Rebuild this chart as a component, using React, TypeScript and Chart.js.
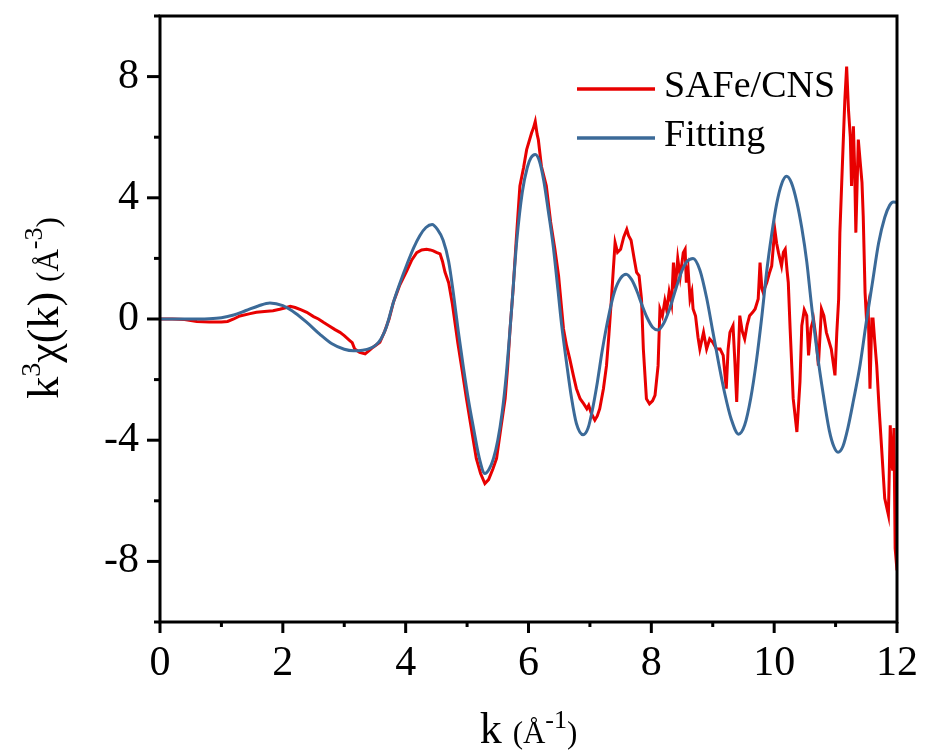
import { useEffect, useRef } from 'react';
import { Chart, registerables } from 'chart.js';

Chart.register(...registerables);

// ---- Data ----
const seriesNames = ['SAFe/CNS', 'Fitting'];

const kSample = [
  0.0, 0.2, 0.4, 0.6, 0.8, 1.0, 1.1, 1.2, 1.3, 1.45, 1.57, 1.7, 1.84, 1.95, 2.06, 2.12, 2.2, 2.3, 2.39, 2.5,
  2.58, 2.66, 2.75, 2.85, 2.93, 3.0, 3.09, 3.13, 3.17, 3.25, 3.34, 3.4, 3.47, 3.58, 3.66, 3.73, 3.8, 3.9, 4.02, 4.1,
  4.18, 4.26, 4.34, 4.4, 4.45, 4.5, 4.56, 4.6, 4.64, 4.7, 4.76, 4.85, 4.92, 4.99, 5.06, 5.15, 5.22, 5.29, 5.35, 5.42,
  5.48, 5.55, 5.62, 5.66, 5.7, 5.75, 5.8, 5.86, 5.92, 5.97, 6.05, 6.08, 6.11, 6.14, 6.16, 6.21, 6.29, 6.36, 6.43, 6.49,
  6.57, 6.62, 6.67, 6.73, 6.78, 6.84, 6.9, 6.95, 6.98, 7.02, 7.08, 7.12, 7.16, 7.22, 7.27, 7.31, 7.35, 7.38, 7.41, 7.45,
  7.5, 7.55, 7.6, 7.63, 7.67, 7.72, 7.76, 7.8, 7.84, 7.87, 7.92, 7.97, 8.02, 8.06, 8.11, 8.14, 8.18, 8.22, 8.25, 8.29,
  8.33, 8.36, 8.39, 8.43, 8.47, 8.52, 8.55, 8.57, 8.6, 8.63, 8.66, 8.68, 8.72, 8.76, 8.79, 8.85, 8.9, 8.95, 9.0, 9.06,
  9.12, 9.17, 9.22, 9.25, 9.28, 9.33, 9.36, 9.39, 9.44, 9.48, 9.52, 9.56, 9.6, 9.65, 9.69, 9.74, 9.77, 9.8, 9.82, 9.88,
  9.92, 9.96, 10.01, 10.04, 10.07, 10.12, 10.15, 10.18, 10.21, 10.23, 10.26, 10.31, 10.37, 10.42, 10.45, 10.49, 10.53, 10.56, 10.6, 10.64,
  10.68, 10.72, 10.77, 10.81, 10.85, 10.93, 10.99, 11.02, 11.05, 11.07, 11.1, 11.12, 11.15, 11.18, 11.21, 11.24, 11.26, 11.29, 11.31, 11.33,
  11.37, 11.4, 11.43, 11.45, 11.48, 11.5, 11.53, 11.56, 11.59, 11.61, 11.64, 11.67, 11.71, 11.75, 11.8, 11.86, 11.89, 11.91, 11.93, 11.95,
  11.97, 12.0,
];
const chiSample = [
  0, 0, -0.02, -0.08, -0.1, -0.1, -0.08, 0, 0.1, 0.17, 0.22, 0.25, 0.27, 0.32, 0.38, 0.42, 0.38, 0.3, 0.22, 0.08,
  0.0, -0.11, -0.22, -0.35, -0.44, -0.55, -0.71, -0.78, -0.99, -1.1, -1.15, -1.05, -0.93, -0.77, -0.4, 0.0, 0.55, 1.1, 1.6, 1.95,
  2.19, 2.28, 2.3, 2.28, 2.25, 2.2, 2.15, 1.9, 1.55, 1.2, 0.5, -0.8, -1.7, -2.63, -3.5, -4.6, -5.1, -5.43, -5.3, -4.95,
  -4.6, -3.6, -2.63, -1.6, -0.33, 1.0, 2.6, 4.39, 5.0, 5.59, 6.14, 6.3, 6.52, 6.1, 5.92, 5.04, 4.4, 3.2, 2.3, 1.42,
  -0.33, -0.88, -1.3, -1.86, -2.3, -2.63, -2.8, -2.96, -2.85, -3.1, -3.34, -3.2, -2.96, -2.3, -1.54, -0.5, 0.66, 1.6, 2.52, 2.2,
  2.3, 2.7, 2.96, 2.75, 2.6, 2.0, 1.54, 1.43, 0.66, -0.99, -2.63, -2.8, -2.7, -2.52, -1.54, 0.33, 0.1, 0.6, 0.3, 0.9,
  0.5, 1.86, 1.0, 2.0, 1.4, 2.19, 2.3, 1.2, 1.6, 0.66, 0.9, 0.33, 0.1, -0.6, -0.99, -0.44, -0.99, -0.66, -0.77, -0.99,
  -0.99, -1.2, -2.3, -1.0, -0.44, -0.22, -1.4, -2.74, 0.11, -0.4, -0.66, -0.2, 0.11, 0.22, 0.33, 0.66, 1.86, 1.0, 0.88, 1.2,
  1.5, 1.75, 2.96, 2.5, 2.19, 1.75, 2.2, 2.3, 1.6, 1.2, -0.33, -2.63, -3.73, -2.08, -0.22, 0.3, 0.11, -1.2, -0.3, 0.0,
  -0.6, -1.54, 0.33, 0.1, -0.44, -0.99, -1.86, -0.44, 0.66, 2.85, 4.5, 5.59, 7.2, 8.33, 6.9, 6.0, 4.39, 6.36, 5.0, 2.85,
  5.92, 5.2, 4.5, 3.4, 0.88, 0.11, 0.44, -2.3, 0.0, 0.0, -0.8, -1.54, -3.0, -4.28, -5.92, -6.47, -3.51, -4.6, -5.0, -3.6,
  -7.57, -8.3,
];

const kFit = [
  0, 0.4, 0.8, 1.0, 1.2, 1.4, 1.6, 1.79, 2.0, 2.2, 2.4, 2.6, 2.8, 3.0, 3.15, 3.3, 3.42, 3.52, 3.6, 3.68,
  3.8, 3.9, 4.02, 4.13, 4.23, 4.33, 4.43, 4.52, 4.61, 4.7, 4.78, 4.86, 4.94, 5.02, 5.1, 5.2, 5.29, 5.36, 5.43, 5.5,
  5.57, 5.64, 5.72, 5.81, 5.9, 5.98, 6.04, 6.11, 6.18, 6.25, 6.32, 6.4, 6.48, 6.54, 6.62, 6.7, 6.78, 6.89, 6.97, 7.04,
  7.12, 7.2, 7.3, 7.4, 7.5, 7.59, 7.68, 7.76, 7.85, 7.93, 8.02, 8.11, 8.2, 8.3, 8.4, 8.5, 8.58, 8.68, 8.79, 8.9,
  9.0, 9.1, 9.2, 9.3, 9.42, 9.52, 9.62, 9.71, 9.8, 9.88, 9.96, 10.04, 10.12, 10.2, 10.28, 10.37, 10.45, 10.53, 10.6, 10.7,
  10.8, 10.9, 10.97, 11.04, 11.12, 11.2, 11.29, 11.4, 11.5, 11.6, 11.7, 11.8, 11.88, 11.94, 12.0,
];
const chiFit = [
  0, 0, 0.01, 0.04, 0.13, 0.28, 0.43, 0.53, 0.44, 0.2, -0.13, -0.5, -0.82, -1.0, -1.05, -1.03, -0.97, -0.85, -0.65, -0.3,
  0.55, 1.15, 1.8, 2.35, 2.75, 3.02, 3.12, 2.95, 2.6, 1.9, 0.8, -0.45, -1.6, -2.65, -3.55, -4.6, -5.1, -4.95, -4.6, -4.0,
  -3.1, -1.8, 0.2, 2.6, 4.2, 5.0, 5.32, 5.43, 5.2, 4.55, 3.6, 2.45, 0.95, -0.2, -1.45, -2.6, -3.45, -3.82, -3.6, -3.0,
  -2.1, -1.05, 0.05, 0.9, 1.35, 1.48, 1.3, 0.95, 0.45, 0.05, -0.27, -0.36, -0.15, 0.35, 1.0, 1.6, 1.9, 2.0, 1.62, 0.7,
  -0.4, -1.5, -2.5, -3.3, -3.8, -3.5, -2.6, -1.4, 0.1, 1.6, 2.8, 3.8, 4.45, 4.71, 4.5, 3.85, 3.0, 1.9, 0.6, -1.1,
  -2.5, -3.7, -4.2, -4.4, -4.2, -3.6, -2.7, -1.5, -0.1, 1.2, 2.5, 3.35, 3.75, 3.86, 3.85,
];

const xMajorTicks = [0, 2, 4, 6, 8, 10, 12];
const yMajorTicks = [-8, -4, 0, 4, 8];

const RED = 'rgb(232,0,0)';
const BLUE = 'rgb(59,106,152)';
const SERIF = '"Liberation Serif", "Times New Roman", serif';

type Run = { t: string; size: number; rise: number };

function drawRuns(ctx: CanvasRenderingContext2D, runs: Run[], cx: number, cy: number, rotate: boolean) {
  ctx.save();
  ctx.translate(cx, cy);
  if (rotate) ctx.rotate(-Math.PI / 2);
  ctx.fillStyle = '#000';
  ctx.textBaseline = 'alphabetic';
  ctx.textAlign = 'left';
  const widths = runs.map((r) => {
    ctx.font = `${r.size}px ${SERIF}`;
    return ctx.measureText(r.t).width;
  });
  const total = widths.reduce((a, b) => a + b, 0);
  let x = -total / 2;
  runs.forEach((r, i) => {
    ctx.font = `${r.size}px ${SERIF}`;
    ctx.fillText(r.t, x, -r.rise);
    x += widths[i];
  });
  ctx.restore();
}

const decorPlugin = {
  id: 'decor',
  afterDatasetsDraw(chart: any) {
    const ctx: CanvasRenderingContext2D = chart.ctx;
    const { left, right, top, bottom } = chart.chartArea;
    const xs = chart.scales.x;
    const ys = chart.scales.y;
    ctx.save();
    ctx.strokeStyle = '#000';
    ctx.lineWidth = 3;
    ctx.lineCap = 'butt';
    // frame
    ctx.strokeRect(left, top, right - left, bottom - top);
    // x ticks
    xs.ticks.forEach((t: any) => {
      const px = xs.getPixelForValue(t.value);
      const len = xMajorTicks.includes(t.value) ? 11 : 5;
      ctx.beginPath();
      ctx.moveTo(px, bottom);
      ctx.lineTo(px, bottom + len);
      ctx.stroke();
    });
    // y ticks
    ys.ticks.forEach((t: any) => {
      const py = ys.getPixelForValue(t.value);
      const len = yMajorTicks.includes(t.value) ? 13 : 6;
      ctx.beginPath();
      ctx.moveTo(left, py);
      ctx.lineTo(left - len, py);
      ctx.stroke();
    });
    // legend
    const ds = chart.data.datasets;
    const legendRows = [89, 138];
    ds.forEach((d: any, i: number) => {
      const y = legendRows[i];
      ctx.strokeStyle = d.borderColor;
      ctx.lineWidth = 3.5;
      ctx.beginPath();
      ctx.moveTo(577, y);
      ctx.lineTo(655, y);
      ctx.stroke();
      ctx.fillStyle = '#000';
      ctx.font = `38px ${SERIF}`;
      ctx.textBaseline = 'alphabetic';
      ctx.textAlign = 'left';
      ctx.fillText(d.label, 664, y + 8);
    });
    ctx.restore();

    // axis titles
    drawRuns(
      ctx,
      [
        { t: 'k', size: 44, rise: 0 },
        { t: ' ', size: 44, rise: 0 },
        { t: '(Å', size: 31, rise: 0 },
        { t: '-1', size: 26, rise: 15 },
        { t: ')', size: 31, rise: 0 },
      ],
      (left + right) / 2,
      743,
      false
    );
    drawRuns(
      ctx,
      [
        { t: 'k', size: 44, rise: 0 },
        { t: '3', size: 28, rise: 18 },
        { t: 'χ(k)', size: 44, rise: 0 },
        { t: ' ', size: 40, rise: 0 },
        { t: '(Å', size: 31, rise: 0 },
        { t: '-3', size: 26, rise: 16 },
        { t: ')', size: 31, rise: 0 },
      ],
      58,
      308,
      true
    );
  },
};

export default function App() {
  const ref = useRef<HTMLCanvasElement | null>(null);

  useEffect(() => {
    if (!ref.current) return;
    const chart = new Chart(ref.current, {
      type: 'line',
      data: {
        datasets: [
          {
            label: seriesNames[0],
            data: kSample.map((k, i) => ({ x: k, y: chiSample[i] })),
            borderColor: RED,
            backgroundColor: RED,
            borderWidth: 3,
            pointRadius: 0,
            tension: 0,
            order: 1,
          },
          {
            label: seriesNames[1],
            data: kFit.map((k, i) => ({ x: k, y: chiFit[i] })),
            borderColor: BLUE,
            backgroundColor: BLUE,
            borderWidth: 3,
            pointRadius: 0,
            cubicInterpolationMode: 'monotone',
            order: 0,
          },
        ],
      },
      options: {
        responsive: false,
        animation: false,
        devicePixelRatio: 1,
        layout: { padding: { left: 0, top: 16, right: 28, bottom: 0 } },
        plugins: { legend: { display: false }, tooltip: { enabled: false }, title: { display: false } },
        scales: {
          x: {
            type: 'linear',
            min: 0,
            max: 12,
            grid: { display: false, drawTicks: false },
            border: { display: false },
            ticks: {
              stepSize: 1,
              autoSkip: false,
              maxRotation: 0,
              padding: 17,
              color: '#000',
              font: { family: SERIF, size: 42 },
              callback: (v: any) => (xMajorTicks.includes(Number(v)) ? String(v) : ''),
            },
            afterFit: (s: any) => {
              s.height = 134;
              s.paddingLeft = 0;
              s.paddingRight = 0;
            },
          },
          y: {
            type: 'linear',
            min: -10,
            max: 10,
            grid: { display: false, drawTicks: false },
            border: { display: false },
            ticks: {
              stepSize: 2,
              autoSkip: false,
              padding: 21,
              color: '#000',
              font: { family: SERIF, size: 42 },
              callback: (v: any) => (yMajorTicks.includes(Number(v)) ? String(v) : ''),
            },
            afterFit: (s: any) => {
              s.width = 160;
              s.paddingTop = 0;
              s.paddingBottom = 0;
            },
          },
        },
      },
      plugins: [decorPlugin],
    });
    return () => chart.destroy();
  }, []);

  return (
    <div style={{ position: 'absolute', left: 0, top: 0, width: 925, height: 756, background: '#fff' }}>
      <canvas ref={ref} width={925} height={756} style={{ width: 925, height: 756, display: 'block' }} />
    </div>
  );
}
